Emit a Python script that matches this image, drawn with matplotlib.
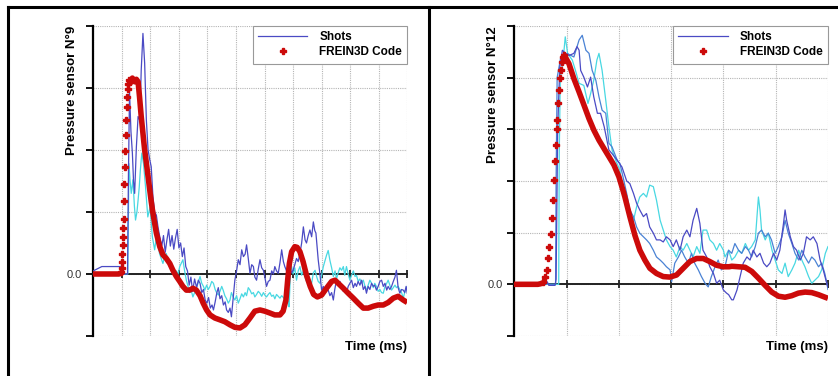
import numpy as np
import matplotlib.pyplot as plt
from matplotlib.lines import Line2D

plt.rcParams['font.family'] = ['Liberation Sans', 'DejaVu Sans']

# ---- Sensor N°9 (time in grid units, pressure in grid units) ----
code9 = [(0, 0), (0.5, 0), (0.9, 0), (0.95, 0.01), (0.97, 0.03), (0.99, 0.1), (1.00, 0.2),
         (1.01, 0.32), (1.03, 0.47), (1.04, 0.6), (1.05, 0.74), (1.06, 0.88), (1.08, 1.17),
         (1.09, 1.45), (1.11, 1.72), (1.12, 1.99), (1.14, 2.24), (1.15, 2.48), (1.17, 2.7),
         (1.19, 2.85), (1.21, 2.98), (1.23, 3.07), (1.25, 3.13),
         (1.30, 3.08), (1.37, 3.16), (1.45, 3.10), (1.51, 3.14), (1.57, 3.10),
         (1.62, 2.86), (1.68, 2.54), (1.74, 2.27), (1.80, 2.0), (1.86, 1.79), (1.92, 1.57),
         (1.98, 1.35), (2.03, 1.17), (2.09, 0.98), (2.15, 0.82), (2.21, 0.66), (2.27, 0.55),
         (2.33, 0.44), (2.44, 0.31), (2.56, 0.25), (2.68, 0.17), (2.79, 0.06), (2.91, -0.04),
         (3.03, -0.12), (3.14, -0.2), (3.26, -0.26), (3.38, -0.26), (3.49, -0.23), (3.61, -0.26),
         (3.74, -0.35), (3.85, -0.47), (3.97, -0.58), (4.09, -0.66), (4.26, -0.71), (4.44, -0.74),
         (4.61, -0.77), (4.79, -0.82), (4.96, -0.86), (5.14, -0.87), (5.31, -0.82), (5.49, -0.71),
         (5.66, -0.60), (5.84, -0.58), (6.01, -0.60), (6.19, -0.63), (6.36, -0.66), (6.54, -0.66),
         (6.65, -0.60), (6.75, -0.42), (6.81, -0.1), (6.87, 0.17), (6.95, 0.36), (7.06, 0.44),
         (7.14, 0.43), (7.24, 0.36), (7.35, 0.2), (7.47, -0.02), (7.60, -0.2), (7.72, -0.33),
         (7.85, -0.37), (8.00, -0.34), (8.17, -0.23), (8.35, -0.12), (8.47, -0.1), (8.58, -0.15),
         (8.76, -0.23), (8.93, -0.31), (9.11, -0.39), (9.28, -0.47), (9.46, -0.55), (9.63, -0.55),
         (9.81, -0.52), (9.98, -0.50), (10.16, -0.50), (10.33, -0.46), (10.51, -0.39),
         (10.68, -0.36), (10.86, -0.42), (11.0, -0.46)]

shot9_a = [(0, 0.05), (0.3, 0.12), (0.95, 0.12), (1.03, 0.0), (1.20, 0.0), (1.23, 1.5), (1.27, 2.94),
           (1.32, 2.3), (1.37, 1.95), (1.41, 1.5), (1.45, 1.30), (1.51, 2.05), (1.57, 2.54),
           (1.63, 2.48), (1.68, 3.29), (1.74, 3.88), (1.80, 3.40), (1.86, 2.48), (1.92, 2.0),
           (1.98, 1.84), (2.03, 1.73), (2.09, 1.25), (2.15, 1.0), (2.21, 0.95), (2.27, 0.75),
           (2.33, 0.6), (2.40, 0.45), (2.46, 0.62), (2.52, 0.35), (2.58, 0.55), (2.64, 0.72),
           (2.70, 0.45), (2.76, 0.62), (2.82, 0.4), (2.88, 0.58), (2.94, 0.72), (3.00, 0.42),
           (3.06, 0.5), (3.12, 0.28), (3.18, 0.42), (3.24, 0.12), (3.30, 0.05), (3.36, -0.18),
           (3.42, -0.05), (3.48, -0.28), (3.55, -0.08), (3.62, -0.22), (3.68, -0.1), (3.74, -0.15),
           (3.80, -0.3), (3.86, -0.25), (3.92, -0.42), (3.98, -0.47), (4.04, -0.38), (4.10, -0.55),
           (4.16, -0.5), (4.21, -0.58), (4.27, -0.45), (4.33, -0.3), (4.38, -0.22), (4.44, -0.4),
           (4.50, -0.35), (4.56, -0.5), (4.62, -0.45), (4.67, -0.58), (4.73, -0.62), (4.79, -0.55),
           (4.84, -0.69), (4.90, -0.4), (4.96, -0.1), (5.02, 0.05), (5.08, 0.23), (5.14, 0.15),
           (5.20, 0.39), (5.26, 0.28), (5.32, 0.32), (5.37, 0.47), (5.43, 0.25), (5.49, 0.01),
           (5.55, 0.15), (5.61, 0.12), (5.66, -0.05), (5.72, -0.1), (5.78, 0.08), (5.84, 0.23),
           (5.90, 0.1), (5.96, 0.06), (6.01, -0.05), (6.07, -0.2), (6.13, -0.12), (6.19, -0.1),
           (6.25, 0.05), (6.31, 0.0), (6.36, 0.12), (6.42, 0.05), (6.48, 0.01), (6.54, 0.18),
           (6.60, 0.39), (6.66, 0.2), (6.71, 0.12), (6.77, 0.05), (6.83, 0.01), (6.89, 0.1),
           (6.95, 0.02), (7.00, 0.06), (7.06, 0.15), (7.12, 0.25), (7.18, 0.2), (7.24, 0.33),
           (7.30, 0.5), (7.36, 0.76), (7.42, 0.55), (7.47, 0.5), (7.53, 0.62), (7.59, 0.71),
           (7.65, 0.6), (7.71, 0.84), (7.76, 0.7), (7.80, 0.66), (7.84, 0.45), (7.88, 0.23),
           (7.94, 0.0), (8.00, -0.26), (8.06, -0.2), (8.11, -0.31), (8.17, -0.22), (8.23, -0.26),
           (8.29, -0.35), (8.35, -0.3), (8.41, -0.42), (8.46, -0.25), (8.52, -0.1), (8.58, -0.18),
           (8.64, -0.12), (8.70, -0.2), (8.76, -0.28), (8.81, -0.22), (8.87, -0.31), (8.93, -0.2),
           (8.99, -0.15), (9.05, -0.1), (9.11, -0.22), (9.17, -0.15), (9.22, -0.2), (9.28, -0.12),
           (9.34, -0.18), (9.40, -0.1), (9.46, -0.25), (9.52, -0.2), (9.57, -0.31), (9.63, -0.2),
           (9.69, -0.25), (9.75, -0.15), (9.81, -0.2), (9.86, -0.18), (9.92, -0.26), (9.98, -0.2),
           (10.04, -0.12), (10.10, -0.1), (10.16, -0.2), (10.22, -0.15), (10.28, -0.26),
           (10.33, -0.2), (10.39, -0.25), (10.45, -0.2), (10.51, -0.12), (10.57, -0.05),
           (10.62, 0.06), (10.68, -0.22), (10.74, -0.31), (10.80, -0.25), (10.86, -0.26),
           (10.91, -0.3), (10.96, -0.2), (11.0, -0.31)]

shot9_b = [(0, 0), (1.21, 0), (1.23, 0.9), (1.25, 1.78), (1.29, 1.5), (1.33, 1.30), (1.39, 1.52),
           (1.44, 1.1), (1.48, 0.87), (1.53, 1.0), (1.57, 1.19), (1.61, 1.4), (1.65, 1.68),
           (1.70, 1.95), (1.76, 1.78), (1.83, 1.41), (1.91, 0.92), (1.99, 1.08), (2.07, 0.60),
           (2.15, 0.39), (2.23, 0.66), (2.32, 0.33), (2.38, 0.25), (2.44, 0.17), (2.50, 0.28),
           (2.56, 0.33), (2.62, 0.2), (2.67, 0.12), (2.73, 0.18), (2.79, 0.08), (2.85, 0.01),
           (2.91, 0.05), (2.97, 0.0), (3.03, 0.12), (3.09, 0.18), (3.14, 0.23), (3.20, 0.05),
           (3.26, -0.1), (3.32, -0.2), (3.38, -0.3), (3.44, -0.28), (3.49, -0.37), (3.55, -0.3),
           (3.61, -0.22), (3.67, -0.15), (3.74, -0.04), (3.80, -0.15), (3.86, -0.2), (3.91, -0.26),
           (3.97, -0.18), (4.03, -0.25), (4.09, -0.2), (4.15, -0.12), (4.21, -0.15), (4.27, -0.25),
           (4.32, -0.3), (4.38, -0.34), (4.44, -0.28), (4.50, -0.2), (4.55, -0.26), (4.61, -0.35),
           (4.67, -0.4), (4.73, -0.47), (4.79, -0.42), (4.84, -0.3), (4.90, -0.37), (4.96, -0.42),
           (5.02, -0.35), (5.08, -0.47), (5.14, -0.4), (5.20, -0.32), (5.26, -0.37), (5.32, -0.3),
           (5.37, -0.35), (5.43, -0.22), (5.49, -0.26), (5.55, -0.32), (5.61, -0.3), (5.66, -0.37),
           (5.72, -0.33), (5.78, -0.28), (5.84, -0.31), (5.90, -0.36), (5.96, -0.3), (6.01, -0.34),
           (6.07, -0.37), (6.13, -0.33), (6.19, -0.3), (6.25, -0.36), (6.31, -0.34), (6.36, -0.4),
           (6.42, -0.33), (6.48, -0.36), (6.54, -0.39), (6.60, -0.35), (6.66, -0.38), (6.71, -0.41),
           (6.77, -0.39), (6.83, -0.45), (6.86, -0.53), (6.91, 0.06), (6.95, 0.12), (7.00, 0.0),
           (7.06, 0.1), (7.12, -0.1), (7.18, 0.05), (7.24, 0.12), (7.30, -0.02), (7.36, 0.06),
           (7.41, -0.04), (7.47, -0.12), (7.53, -0.02), (7.59, -0.1), (7.65, -0.15), (7.71, 0.02),
           (7.77, 0.06), (7.83, -0.05), (7.88, -0.12), (7.94, -0.15), (8.00, -0.02), (8.06, 0.12),
           (8.11, 0.2), (8.17, 0.3), (8.23, 0.38), (8.29, 0.22), (8.35, 0.1), (8.41, -0.04),
           (8.47, 0.05), (8.52, -0.08), (8.58, 0.02), (8.64, 0.1), (8.70, 0.06), (8.76, 0.12),
           (8.81, -0.02), (8.87, 0.12), (8.93, 0.0), (8.99, -0.1), (9.05, -0.02), (9.11, 0.05),
           (9.17, -0.04), (9.22, -0.02), (9.28, -0.12), (9.34, -0.08), (9.40, -0.15), (9.46, -0.1),
           (9.52, -0.2), (9.57, -0.26), (9.63, -0.18), (9.69, -0.1), (9.75, -0.15), (9.81, -0.22),
           (9.86, -0.15), (9.92, -0.2), (9.98, -0.28), (10.04, -0.25), (10.10, -0.3), (10.16, -0.31),
           (10.22, -0.2), (10.28, -0.15), (10.33, -0.1), (10.39, -0.18), (10.45, -0.26),
           (10.51, -0.22), (10.57, -0.18), (10.62, -0.22), (10.68, -0.2), (10.74, -0.25),
           (10.80, -0.3), (10.86, -0.39), (10.92, -0.28), (11.0, -0.2)]

# ---- Sensor N°12 ----
code12 = [(0, 0), (0.3, 0), (0.45, 0.0), (0.5, 0.01), (0.53, 0.02),
          (0.555, 0.05), (0.587, 0.15), (0.62, 0.28), (0.65, 0.5), (0.67, 0.73), (0.696, 0.97),
          (0.715, 1.28), (0.734, 1.63), (0.759, 2.02), (0.778, 2.39), (0.797, 2.69), (0.81, 3.0),
          (0.822, 3.19), (0.841, 3.5), (0.86, 3.77), (0.88, 4.0), (0.90, 4.15), (0.92, 4.3),
          (0.94, 4.4), (0.96, 4.43),
          (1.046, 4.27), (1.141, 3.98), (1.237, 3.73),
          (1.333, 3.47), (1.428, 3.21), (1.524, 2.98), (1.62, 2.79), (1.715, 2.63), (1.811, 2.47),
          (1.906, 2.31), (2.002, 2.08), (2.085, 1.80), (2.116, 1.69), (2.211, 1.31), (2.307, 0.95),
          (2.402, 0.66), (2.498, 0.47), (2.594, 0.31), (2.721, 0.21), (2.849, 0.15), (2.976, 0.14),
          (3.104, 0.18), (3.231, 0.31), (3.358, 0.44), (3.486, 0.50), (3.614, 0.50), (3.741, 0.44),
          (3.868, 0.37), (3.996, 0.34), (4.11, 0.34), (4.16, 0.35), (4.288, 0.34), (4.415, 0.33),
          (4.543, 0.25), (4.67, 0.12), (4.798, -0.02), (4.925, -0.15), (5.053, -0.23),
          (5.18, -0.25), (5.308, -0.22), (5.435, -0.17), (5.563, -0.15), (5.69, -0.16),
          (5.818, -0.20), (5.945, -0.25), (6.0, -0.27)]

shot12_a = [(0, 0), (0.6, 0), (0.63, 0.05), (0.66, -0.02), (0.78, -0.02), (0.80, 0.1), (0.83, 3.0),
            (0.87, 4.2), (0.92, 4.53), (0.98, 4.47), (1.05, 4.43), (1.14, 4.47), (1.20, 4.60),
            (1.24, 4.53), (1.27, 4.14), (1.33, 4.01), (1.40, 3.82), (1.46, 4.01), (1.52, 3.63),
            (1.59, 3.31), (1.65, 3.31), (1.72, 3.05), (1.81, 2.60), (1.87, 2.53), (1.97, 2.40),
            (2.06, 2.27), (2.15, 2.0), (2.21, 1.95), (2.28, 1.76), (2.34, 1.57), (2.40, 1.44),
            (2.47, 1.31), (2.53, 1.37), (2.59, 1.11), (2.66, 0.99), (2.72, 0.86), (2.79, 0.86),
            (2.85, 0.82), (2.91, 0.92), (2.98, 0.86), (3.04, 0.73), (3.10, 0.86), (3.17, 0.66),
            (3.23, 0.92), (3.30, 1.05), (3.36, 0.92), (3.42, 1.24), (3.49, 1.47), (3.55, 1.18),
            (3.61, 0.66), (3.68, 0.53), (3.74, 0.34), (3.81, 0.21), (3.87, 0.02), (3.93, 0.08),
            (4.00, -0.11), (4.06, -0.17), (4.10, -0.20), (4.16, -0.30), (4.19, -0.30), (4.26, -0.11),
            (4.32, 0.15), (4.38, 0.41), (4.45, 0.53), (4.51, 0.47), (4.57, 0.66), (4.64, 0.53),
            (4.70, 0.60), (4.77, 0.41), (4.83, 0.34), (4.89, 0.41), (4.96, 0.60), (5.02, 0.47),
            (5.08, 0.66), (5.15, 1.18), (5.18, 1.44), (5.21, 1.24), (5.28, 0.92), (5.34, 0.73),
            (5.40, 0.66), (5.47, 0.47), (5.53, 0.60), (5.59, 0.92), (5.66, 0.86), (5.72, 0.92),
            (5.79, 0.79), (5.85, 0.47), (5.91, 0.28), (5.977, 0.02), (6.0, -0.05)]

shot12_b = [(0, 0), (0.6, 0), (0.63, 0.03), (0.66, 0), (0.79, 0), (0.80, 2.0), (0.82, 4.0),
            (0.89, 4.40), (1.01, 4.47), (1.14, 4.40), (1.24, 4.73), (1.30, 4.82), (1.37, 4.53),
            (1.43, 4.47), (1.49, 4.14), (1.56, 3.95), (1.62, 3.63), (1.68, 3.37), (1.75, 3.31),
            (1.81, 2.73), (1.87, 2.66), (1.97, 2.40), (2.02, 2.34), (2.08, 2.08), (2.15, 1.76),
            (2.21, 1.44), (2.28, 1.31), (2.34, 1.11), (2.40, 0.99), (2.47, 0.92), (2.53, 0.86),
            (2.59, 0.79), (2.66, 0.66), (2.72, 0.53), (2.79, 0.47), (2.85, 0.41), (2.91, 0.34),
            (2.98, 0.28), (3.01, 0.05), (3.07, 0.41), (3.14, 0.53), (3.20, 0.66), (3.26, 0.53),
            (3.33, 0.41), (3.39, 0.60), (3.45, 0.41), (3.52, 0.28), (3.58, 0.15), (3.65, 0.02),
            (3.71, -0.05), (3.77, 0.15), (3.84, 0.34), (3.90, 0.47), (3.96, 0.28), (4.03, 0.34),
            (4.06, 0.47), (4.10, 0.66), (4.16, 0.60), (4.22, 0.79), (4.29, 0.66), (4.35, 0.60),
            (4.42, 0.73), (4.48, 0.66), (4.54, 0.53), (4.61, 0.73), (4.67, 0.99), (4.73, 1.05),
            (4.80, 0.92), (4.86, 0.99), (4.92, 0.86), (4.99, 0.60), (5.05, 0.73), (5.12, 0.92),
            (5.18, 1.24), (5.24, 0.99), (5.31, 0.79), (5.37, 0.60), (5.44, 0.47), (5.50, 0.66),
            (5.56, 0.53), (5.63, 0.41), (5.69, 0.53), (5.75, 0.47), (5.82, 0.34), (5.88, 0.41),
            (5.94, 0.21), (5.98, 0.02), (6.0, -0.1)]

shot12_c = [(0, 0), (0.85, 0), (0.86, 2.5), (0.88, 4.0), (0.93, 4.3), (0.975, 4.79), (1.02, 4.47),
            (1.11, 4.34), (1.17, 4.14), (1.24, 3.89), (1.33, 3.85), (1.41, 3.50), (1.46, 3.69),
            (1.52, 3.95), (1.58, 4.34), (1.62, 4.47), (1.68, 4.14), (1.75, 3.56), (1.81, 3.05),
            (1.87, 2.60), (1.94, 2.40), (2.02, 2.21), (2.08, 1.75), (2.15, 1.50), (2.21, 1.44),
            (2.28, 1.24), (2.34, 1.50), (2.40, 1.69), (2.47, 1.76), (2.53, 1.69), (2.59, 1.92),
            (2.66, 1.89), (2.72, 1.63), (2.79, 1.24), (2.85, 1.05), (2.91, 0.86), (2.98, 0.73),
            (3.04, 0.66), (3.10, 0.53), (3.17, 0.73), (3.23, 0.66), (3.30, 0.79), (3.36, 0.66),
            (3.42, 0.53), (3.49, 0.73), (3.55, 0.60), (3.61, 1.05), (3.68, 1.05), (3.74, 0.86),
            (3.81, 0.79), (3.87, 0.66), (3.93, 0.79), (4.00, 0.66), (4.03, 0.53), (4.10, 0.66),
            (4.16, 0.47), (4.22, 0.53), (4.29, 0.66), (4.35, 0.60), (4.42, 0.79), (4.48, 0.66),
            (4.54, 0.73), (4.61, 0.86), (4.67, 1.69), (4.70, 1.44), (4.73, 1.05), (4.80, 0.86),
            (4.86, 0.99), (4.93, 0.66), (4.99, 0.47), (5.05, 0.28), (5.12, 0.21), (5.18, 0.41),
            (5.24, 0.15), (5.31, 0.28), (5.37, 0.41), (5.44, 0.66), (5.50, 0.47), (5.56, 0.34),
            (5.63, 0.15), (5.69, 0.02), (5.75, 0.08), (5.82, 0.15), (5.88, 0.28), (5.95, 0.60),
            (6.0, 0.73)]

RED = '#cc0a0a'
DARK = '#4a4ac4'
MID = '#4a82d4'
CYAN = '#48d8e2'


def draw_code(ax, data, a, b):
    t, p = np.array(data).T
    ax.plot(t[:a + 1], p[:a + 1], color=RED, lw=4, zorder=5)
    ax.plot(t[a + 1:b + 1], p[a + 1:b + 1], ls='none', marker='P', ms=3.8, color=RED, zorder=5)
    ax.plot(t[b:], p[b:], color=RED, lw=4, zorder=5, solid_capstyle='butt')


def setup(ax, xmax, ymax, label):
    ax.set_xlim(0, xmax)
    ax.set_ylim(-1, ymax)
    ax.set_xticks(np.arange(0, xmax + 1))
    ax.set_xticklabels([])
    ax.set_yticks(np.arange(-1, ymax + 1))
    ax.set_yticklabels(['0.0' if v == 0 else '' for v in range(-1, ymax + 1)])
    ax.spines['top'].set_visible(False)
    ax.spines['right'].set_visible(False)
    ax.spines['bottom'].set_position(('data', 0))
    ax.spines['bottom'].set_linewidth(1.4)
    ax.spines['left'].set_linewidth(1.6)
    ax.spines['bottom'].set_color('#222222')
    ax.tick_params(axis='x', direction='inout', length=6, width=1.3, color='#222222')
    ax.tick_params(axis='y', direction='out', length=5, width=1.3, labelsize=8, pad=3,
                   labelcolor='#333333')
    ax.grid(True, color='#b5b5b5', ls=(0, (1, 1)), lw=0.8)
    ax.set_axisbelow(True)
    ax.text(-0.068, 1.0, label, rotation=90, ha='center', va='top', fontsize=9.5,
            fontweight='bold', transform=ax.transAxes)
    ax.text(1.0, -0.015, 'Time (ms)', ha='right', va='top', fontsize=9.5,
            fontweight='bold', transform=ax.transAxes)
    handles = [Line2D([], [], color=DARK, lw=0.9),
               Line2D([], [], color=RED, ls='none', marker='P', ms=5)]
    leg = ax.legend(handles, ['Shots', 'FREIN3D Code'], loc='upper right', borderaxespad=0,
                    fancybox=False, edgecolor='#999999', framealpha=1, handlelength=4.2,
                    handletextpad=1.0, labelspacing=0.25, borderpad=0.45,
                    prop={'weight': 'bold', 'size': 8.5})
    leg.get_frame().set_linewidth(0.8)
    leg.set_zorder(10)


fig = plt.figure(figsize=(8.38, 3.76), dpi=100)
ax1 = fig.add_axes([0.1113, 0.1064, 0.3747, 0.8245])
ax2 = fig.add_axes([0.6137, 0.1064, 0.3743, 0.8245])

for data, c in [(shot9_b, CYAN), (shot9_a, DARK)]:
    t, p = np.array(data).T
    ax1.plot(t, p, color=c, lw=0.9, zorder=3)
draw_code(ax1, code9, 3, 22)
setup(ax1, 11, 4, 'Pressure sensor N°9')

for data, c in [(shot12_c, CYAN), (shot12_b, MID), (shot12_a, DARK)]:
    t, p = np.array(data).T
    ax2.plot(t, p, color=c, lw=0.9, zorder=3)
draw_code(ax2, code12, 4, 24)
setup(ax2, 6, 5, 'Pressure sensor N°12')

# black panel frame
for xs, ys in [([0.0095, 1.0], [0.9814, 0.9814]), ([0.0095, 0.0095], [0.0, 0.9814]),
               ([0.512, 0.512], [0.0, 0.9814])]:
    fig.add_artist(Line2D(xs, ys, color='black', lw=2.2, transform=fig.transFigure))

fig.savefig('out.png', dpi=100)
